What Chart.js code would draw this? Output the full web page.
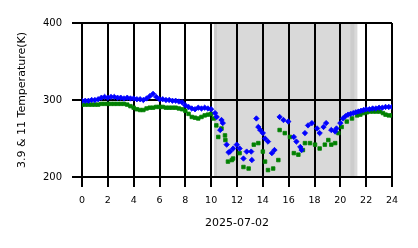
<!DOCTYPE html>
<html>
<head>
<meta charset="utf-8">
<script src="https://cdn.jsdelivr.net/npm/chart.js@4"></script>
<style>
html,body{margin:0;padding:0;background:#fff;}
#c{display:block;}
</style>
</head>
<body>
<canvas id="c" width="418" height="248"></canvas>
<script>
// ---- data ----
const xTicks = [0,2,4,6,8,10,12,14,16,18,20,22,24];
const yTicks = [200,300,400];
const xTitle = "2025-07-02";
const yTitle = "3.9 & 11 Temperature(K)";
const shadeStart = 10.22;
const shadeEnd = 21.32;

const blueHours = [0,0.25,0.5,0.75,1,1.25,1.5,1.75,2,2.25,2.5,2.75,3,3.25,3.5,3.75,4,4.25,4.5,4.75,5,5.25,5.5,5.75,6,6.25,6.5,6.75,7,7.25,7.5,7.75,8,8.25,8.5,8.75,9,9.25,9.5,9.75,10,
  10.3,10.43,10.7,10.8,10.9,11.2,11.35,11.46,11.7,11.98,12.2,12.5,12.75,13.1,13.15,13.5,13.65,13.8,14.0,14.17,14.4,14.7,14.9,15.3,15.6,15.97,16.4,16.6,16.9,17.0,17.26,17.5,17.8,18.2,18.4,18.7,18.9,19.3,19.6,19.7,20.0,20.2,20.4,20.6,20.8,21.0,21.2,21.4,
  21.6,21.8,22.0,22.25,22.5,22.75,23.0,23.25,23.5,23.75,24.0];
const blueTemps = [299,299,299,300,300,301,303,304,303,304,304,303,303,302,303,302,302,301,301,300,302,305,308,304,301,301,300,300,299,299,298,297,293,291,289,288,290,289,290,289,288,
  283,278,261,274,270,242,232,233,237,242,237,224,233,233,222,276,265,261,257,250,246,231,235,278,274,272,252,246,239,235,257,267,270,263,257,265,270,261,259,263,270,276,279,281,282,283,284,285,
  286,287,288,288,289,289,290,290,291,291,291];

const greenHours = [0,0.25,0.5,0.75,1,1.25,1.5,1.75,2,2.25,2.5,2.75,3,3.25,3.5,3.75,4,4.25,4.5,4.75,5,5.25,5.5,5.75,6,6.25,6.5,6.75,7,7.25,7.5,7.75,8,8.25,8.5,8.75,9,9.25,9.5,9.75,10,
  10.2,10.4,10.55,10.8,11.07,11.1,11.3,11.6,11.7,12.2,12.5,12.9,13.3,13.65,14.0,14.17,14.4,14.8,15.2,15.3,15.7,16.1,16.4,16.75,17.1,17.26,17.65,18.04,18.4,18.8,19.07,19.3,19.6,19.85,20.1,20.5,20.9,21.3,
  21.55,21.8,22.05,22.3,22.55,22.8,23.05,23.3,23.5,23.75,24.0];
const greenTemps = [294,294,294,294,294,294,295,295,295,295,295,295,295,295,294,292,290,288,287,287,289,290,290,291,291,291,290,290,290,290,289,288,286,282,278,277,276,278,280,281,282,
  276,267,252,263,254,248,220,222,224,231,213,211,242,244,233,220,209,211,222,261,257,252,231,229,235,244,244,242,237,242,248,242,244,257,265,272,276,280,
  281,283,284,285,285,285,285,283,281,280,280];

const toPts = (hs, ts) => hs.map((h, i) => ({x: h, y: ts[i]}));

const shadePlugin = {
  id: 'shade',
  beforeDraw(chart) {
    const {ctx, chartArea, scales} = chart;
    const x0 = scales.x.getPixelForValue(shadeStart);
    const x1 = scales.x.getPixelForValue(shadeEnd);
    ctx.save();
    ctx.fillStyle = '#d9d9d9';
    ctx.fillRect(x0, chartArea.top, x1 - x0, chartArea.bottom - chartArea.top);
    ctx.fillStyle = 'rgba(0,0,0,0.06)';
    ctx.fillRect(x0, chartArea.top, 3, chartArea.bottom - chartArea.top);
    ctx.fillRect(x1 - 7, chartArea.top, 4, chartArea.bottom - chartArea.top);
    ctx.restore();
  }
};

new Chart(document.getElementById('c'), {
  type: 'scatter',
  data: {
    datasets: [
      {
        label: '3.9',
        data: toPts(blueHours, blueTemps),
        pointStyle: 'rectRot',
        pointRadius: 2.7,
        borderWidth: 0.8,
        backgroundColor: '#0000ff',
        borderColor: '#0000ff'
      },
      {
        label: '11',
        data: toPts(greenHours, greenTemps),
        pointStyle: 'rect',
        pointRadius: 2.5,
        borderWidth: 0.8,
        backgroundColor: '#008000',
        borderColor: '#008000'
      }
    ]
  },
  options: {
    responsive: false,
    animation: false,
    events: [],
    layout: {padding: {top: 23, right: 26, left: 0, bottom: 0}},
    plugins: {legend: {display: false}, tooltip: {enabled: false}},
    scales: {
      x: {
        type: 'linear',
        min: 0, max: 24,
        afterBuildTicks: (s) => { s.ticks = xTicks.map(v => ({value: v})); },
        afterFit: (s) => { s.height = 71; },
        grid: {color: '#000', lineWidth: 2, tickLength: 10, drawTicks: true},
        border: {display: false},
        ticks: {color: '#000', font: {family: 'DejaVu Sans', size: 9.5}, padding: 8, maxRotation: 0, autoSkip: false},
        title: {display: true, text: xTitle, color: '#000', font: {family: 'DejaVu Sans', size: 11}, padding: {top: 0, bottom: 18}}
      },
      y: {
        min: 200, max: 400,
        afterBuildTicks: (s) => { s.ticks = yTicks.map(v => ({value: v})); },
        afterFit: (s) => { s.width = 82; },
        grid: {color: '#000', lineWidth: 2, tickLength: 10, drawTicks: true},
        border: {display: false},
        ticks: {color: '#000', font: {family: 'DejaVu Sans', size: 10}, padding: 10},
        title: {display: true, text: yTitle, color: '#000', font: {family: 'DejaVu Sans', size: 11}, padding: {top: 16, bottom: 0}}
      }
    }
  },
  plugins: [shadePlugin]
});
</script>
</body>
</html>
